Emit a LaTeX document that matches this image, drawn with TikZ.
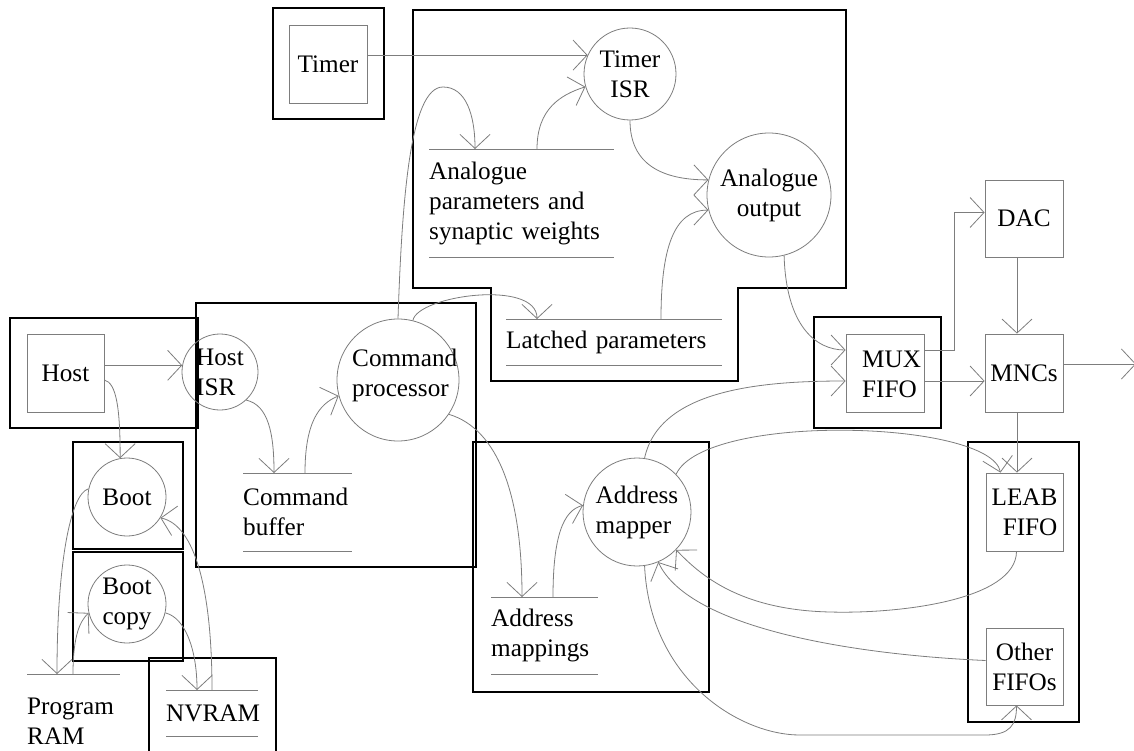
\documentclass[tikz,border=0pt]{standalone}
\usepackage{fontspec}
\setmainfont{Liberation Serif}
\usetikzlibrary{arrows.meta}
\definecolor{ln}{RGB}{125,125,125}
\begin{document}
\begin{tikzpicture}[x=1pt,y=-1pt,
  every node/.style={font=\fontsize{25.2}{30}\selectfont, inner sep=0pt},
  thin/.style={draw=ln, line width=0.8pt},
  frame/.style={draw=black, line width=2.8pt, line join=miter},
  proc/.style={circle, draw=ln, line width=0.8pt, align=center},
  ent/.style={rectangle, draw=ln, line width=0.8pt, minimum width=78pt, minimum height=78pt, align=center},
  store/.style={anchor=north west, align=left},
  txt/.style={align=left},
  arr/.style={draw=ln, line width=0.8pt, -{Straight Barb[length=14pt,width=30pt]}}]
\useasboundingbox (0,0) rectangle (1134,751);
\clip (0,0) rectangle (1134,751);

% group frames
\draw[frame] (273,8) rectangle (384,119);
\draw[frame] (413,10) -- (846,10) -- (846,288) -- (738,288) -- (738,381) -- (491,381) -- (491,288) -- (413,288) -- cycle;
\draw[frame] (10,318) rectangle (198,428);
\draw[frame] (196,303) rectangle (476,567);
\draw[frame] (73,442) rectangle (183,549);
\draw[frame] (73,552) rectangle (183,661);
\draw[frame] (149,658) rectangle (276,770);
\draw[frame] (473,442) rectangle (709,692);
\draw[frame] (814,317) rectangle (941,428);
\draw[frame] (968,442) rectangle (1079,722);

% entities
\node[ent] (timer) at (328,64) {Timer};
\node[ent, minimum width=77pt] (host) at (65.5,373) {Host};
\node[ent] (mux) at (885,373) {};
\node[txt, anchor=west] (muxtxt) at (862,374) {MUX\\FIFO};
\node[ent, minimum height=77pt] (dac) at (1024,218.5) {DAC};
\node[ent] (mnc) at (1024,373) {MNCs};
\node[ent, minimum width=77pt, align=right] (leab) at (1024.5,512) {LEAB\\FIFO};
\node[ent, minimum width=77pt, minimum height=77pt] (other) at (1024.5,666.5) {Other\\FIFOs};
\coordinate (out) at (1136,364);

% processes
\node[proc, minimum size=92pt] (tisr) at (630,74) {Timer\\ISR};
\node[proc, minimum size=124pt] (aout) at (769,195) {Analogue\\output};
\node[proc, minimum size=76pt, align=left] (hisr) at (220,372) {Host\\ISR};
\node[proc, minimum size=122pt] (cp) at (398,380) {};
\node[txt, anchor=west] (cptxt) at (352,375) {Command\\processor};
\node[proc, minimum size=78pt] (boot) at (127,497) {Boot};
\node[proc, minimum size=78pt] (bcopy) at (127,604) {Boot\\copy};
\node[proc, minimum size=108pt, align=left] (am) at (637,512) {Address\\mapper};

% stores
\node[store, text width=185pt, minimum height=108pt] (apar) at (429,149) {Analogue\\parameters and\\synaptic weights};
\node[store, text width=216pt, minimum height=46pt] (latch) at (506,319) {Latched parameters};
\node[store, text width=109pt, minimum height=78pt] (cbuf) at (243,473) {Command\\buffer};
\node[store, text width=107pt, minimum height=77pt] (amap) at (491,597) {Address\\mappings};
\node[store, text width=93pt, minimum height=94pt] (pram) at (27,674) {Program\\RAM};
\node[store, text width=92pt, minimum height=46pt] (nvram) at (166,690) {NVRAM};
\foreach \s in {apar,latch,cbuf,amap,pram,nvram}{
  \draw[thin] (\s.north west) -- (\s.north east) (\s.south west) -- (\s.south east);
}

% connectors
\draw[arr] (timer.east |- tisr.156) -- (tisr.156);
\draw[arr] (tisr.south) .. controls +(0,45) and +(-45,0) .. (aout.166);
\draw[arr] ([shift={(155,0)}]latch.north west) .. controls +(0,-70) and +(-35,0) .. (aout.194);
\draw[arr] ([shift={(108,0)}]apar.north west) .. controls +(0,-40) and +(-25,8) .. (tisr.196);
\draw[arr] (cp.north) .. controls (402,200) and (410,87) .. (443,87) .. controls (466,87) and (475,115) .. ([shift={(46,0)}]apar.north west);
\draw[arr] (cp.76) .. controls +(5,-25) and +(0,-40) .. ([shift={(31,0)}]latch.north west);
\draw[arr] (host.east |- hisr.170) -- (hisr.170);
\draw[arr] ([shift={(0,7)}]host.east) .. controls +(12,3) and +(0,-50) .. (boot.100);
\draw[arr] (hisr.313) .. controls +(22,5) and +(0,-40) .. ([shift={(31,0)}]cbuf.north west);
\draw[arr] ([shift={(62,0)}]cbuf.north west) .. controls +(0,-50) and +(-20,8) .. (cp.195);
\draw[arr] (cp.326) .. controls +(50,15) and +(0,-100) .. ([shift={(31,0)}]amap.north west);
\draw[arr] ([shift={(62,0)}]amap.north west) .. controls +(0,-60) and +(-20,5) .. (am.173);
\draw[arr] (am.82) .. controls +(15,-70) and +(-80,0) .. ([shift={(0,8)}]mux.west);
\draw[arr] (aout.284) .. controls +(2,70) and +(-30,0) .. ([shift={(0,-23)}]mux.west);
\draw[arr] ([shift={(0,-23)}]mux.east) -- ++(30,0) |- ([shift={(0,-6)}]dac.west);
\draw[arr] ([shift={(0,8)}]mux.east) -- ([shift={(0,8)}]mnc.west);
\draw[arr] ([shift={(-7,0)}]dac.south) -- ([shift={(-7,0)}]mnc.north);
\draw[arr] ([shift={(0,-9)}]mnc.east) -- (out);
\draw[arr] ([shift={(-7,0)}]mnc.south) -- ([shift={(-7.5,0)}]leab.north);
\draw[arr] (am.44) .. controls (705,412) and (990,420) .. ([shift={(-24,0)}]leab.north);
\draw[arr] ([shift={(-8,0)}]leab.south) .. controls (1016,600) and (900,614) .. (830,612) .. controls (740,610) and (700,575) .. (am.316);
\draw[arr] ([shift={(0,-6)}]other.west) .. controls (860,655) and (690,630) .. (am.293);
\draw[arr] (am.278) .. controls (650,680) and (740,735) .. (800,735) -- (985,735) .. controls (1010,735) and (1016.5,725) .. ([shift={(-8,0)}]other.south);
\draw[arr] (boot.168) .. controls +(-18,5) and +(0,-110) .. ([shift={(30,0)}]pram.north west);
\draw[arr] ([shift={(46,0)}]pram.north west) .. controls +(0,-40) and +(-8,8) .. (bcopy.193);
\draw[arr] ([shift={(46,0)}]nvram.north west) .. controls (212,590) and (195,525) .. (boot.328);
\draw[arr] (bcopy.347) .. controls +(20,5) and +(0,-40) .. ([shift={(31,0)}]nvram.north west);
\end{tikzpicture}
\end{document}
